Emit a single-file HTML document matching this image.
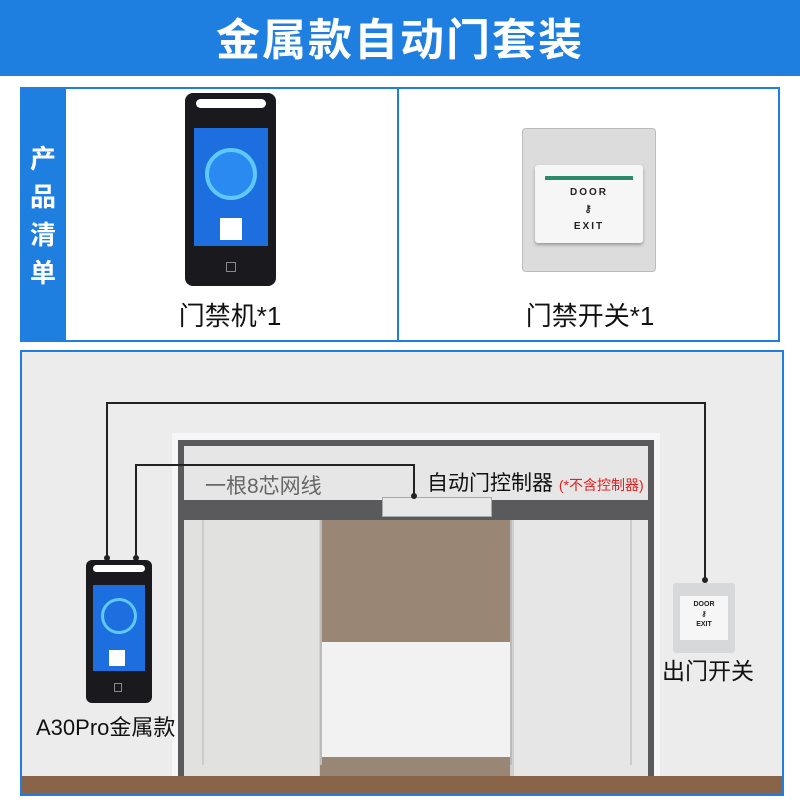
<!DOCTYPE html>
<html><head><meta charset="utf-8"><style>
*{margin:0;padding:0;box-sizing:border-box}
body{width:800px;height:800px;background:#fff;position:relative;overflow:hidden;font-family:"Liberation Sans","Noto Sans CJK SC",sans-serif}
.a{position:absolute}
</style></head><body>
<div class="a" style="left:0;top:0;width:800px;height:76px;background:#1e7fe0"></div>
<div class="a" style="left:0;top:4px;width:800px;text-align:center;color:#fff;font-size:44px;font-weight:bold;letter-spacing:2px">金属款自动门套装</div>

<div class="a" style="left:20px;top:87px;width:760px;height:255px;border:2px solid #1e7fe0"></div>
<div class="a" style="left:20px;top:87px;width:46px;height:255px;background:#1e7fe0"></div>
<div class="a" style="left:20px;top:140px;width:46px;color:#fff;font-size:26px;font-weight:bold;text-align:center;line-height:38px">产<br>品<br>清<br>单</div>
<div class="a" style="left:397px;top:87px;width:2px;height:255px;background:#1e7fe0"></div>

<div class="a" style="left:185px;top:93px;width:91px;height:193px;background:#1a1a1e;border-radius:8px"></div>
<div class="a" style="left:196px;top:99px;width:70px;height:9px;background:#fff;border-radius:5px"></div>
<div class="a" style="left:194px;top:128px;width:74px;height:118px;background:#1d6fe0"></div>
<div class="a" style="left:205px;top:148px;width:52px;height:52px;border:4px solid #5fc8ff;border-radius:50%;background:#2a8af0"></div>
<div class="a" style="left:220px;top:218px;width:22px;height:22px;background:#fff"></div>
<div class="a" style="left:226px;top:262px;width:10px;height:10px;border:1px solid #888"></div>
<div class="a" style="left:160px;top:296px;width:140px;text-align:center;font-size:26px;color:#111">门禁机*1</div>

<div class="a" style="left:522px;top:128px;width:134px;height:144px;background:#dcdcdc;border:1px solid #bbb;border-radius:4px"></div>
<div class="a" style="left:535px;top:165px;width:108px;height:78px;background:#f6f6f6;border-radius:3px;box-shadow:0 2px 3px #999"></div>
<div class="a" style="left:545px;top:176px;width:88px;height:4px;background:#2a8a6a"></div>
<div class="a" style="left:535px;top:184px;width:108px;text-align:center;font-size:10px;font-weight:bold;letter-spacing:2px;line-height:17px;color:#222">DOOR<br>⚷<br>EXIT</div>
<div class="a" style="left:500px;top:296px;width:180px;text-align:center;font-size:26px;color:#111">门禁开关*1</div>

<div class="a" style="left:20px;top:350px;width:764px;height:446px;background:#ececec;border:2px solid #1e7fe0;overflow:hidden">
 <div class="a" style="left:150px;top:81px;width:488px;height:380px;background:#f6f6f6"></div>
 <div class="a" style="left:156px;top:88px;width:476px;height:380px;background:#5a5a5c"></div>
 <div class="a" style="left:162px;top:94px;width:464px;height:54px;background:#e6e6e6"></div>
 <div class="a" style="left:162px;top:168px;width:464px;height:260px;background:#d2d0cd"></div>
 <div class="a" style="left:298px;top:168px;width:190px;height:260px;background:#9a8675"></div>
 <div class="a" style="left:300px;top:290px;width:190px;height:115px;background:#f2f2f2"></div>
 <div class="a" style="left:162px;top:168px;width:135px;height:260px;background:rgba(235,236,236,.6)"></div>
 <div class="a" style="left:492px;top:168px;width:134px;height:260px;background:rgba(238,240,242,.7)"></div>
 <div class="a" style="left:180px;top:168px;width:2px;height:245px;background:#ccc"></div>
 <div class="a" style="left:298px;top:168px;width:2px;height:245px;background:#bbb"></div>
 <div class="a" style="left:488px;top:168px;width:2px;height:245px;background:#bbb"></div>
 <div class="a" style="left:608px;top:168px;width:2px;height:245px;background:#ccc"></div>
 <div class="a" style="left:0;top:424px;width:764px;height:22px;background:#8a6448"></div>
 <div class="a" style="left:360px;top:145px;width:110px;height:20px;background:#e8e8e8;border:1px solid #aaa"></div>
</div>
<svg class="a" style="left:0;top:0" width="800" height="800">
 <g stroke="#222" stroke-width="2" fill="none">
  <polyline points="107,560 107,403 705,403 705,580"/>
  <polyline points="136,560 136,465 414,465 414,497"/>
 </g>
 <g fill="#222"><circle cx="107" cy="558" r="3"/><circle cx="136" cy="558" r="3"/><circle cx="705" cy="580" r="3"/><circle cx="414" cy="496" r="3"/></g>
</svg>
<div class="a" style="left:205px;top:470px;font-size:21px;color:#666">一根8芯网线</div>
<div class="a" style="left:427px;top:467px;font-size:21px;color:#111">自动门控制器 <span style="font-size:14px;color:#e02020">(*不含控制器)</span></div>

<div class="a" style="left:86px;top:560px;width:66px;height:143px;background:#1a1a1e;border-radius:6px"></div>
<div class="a" style="left:93px;top:565px;width:52px;height:7px;background:#fff;border-radius:4px"></div>
<div class="a" style="left:93px;top:585px;width:52px;height:86px;background:#1d6fe0"></div>
<div class="a" style="left:101px;top:598px;width:36px;height:36px;border:3px solid #5fc8ff;border-radius:50%"></div>
<div class="a" style="left:109px;top:650px;width:16px;height:16px;background:#fff"></div>
<div class="a" style="left:114px;top:683px;width:8px;height:9px;border:1px solid #888"></div>
<div class="a" style="left:36px;top:710px;font-size:22px;color:#111">A30Pro金属款</div>

<div class="a" style="left:673px;top:583px;width:62px;height:70px;background:#d6d8da;border-radius:3px"></div>
<div class="a" style="left:680px;top:596px;width:48px;height:44px;background:#f6f6f6"></div>
<div class="a" style="left:680px;top:600px;width:48px;text-align:center;font-size:7px;font-weight:bold;line-height:10px;color:#222">DOOR<br>⚷<br>EXIT</div>
<div class="a" style="left:662px;top:652px;font-size:23px;color:#111">出门开关</div>
</body></html>
